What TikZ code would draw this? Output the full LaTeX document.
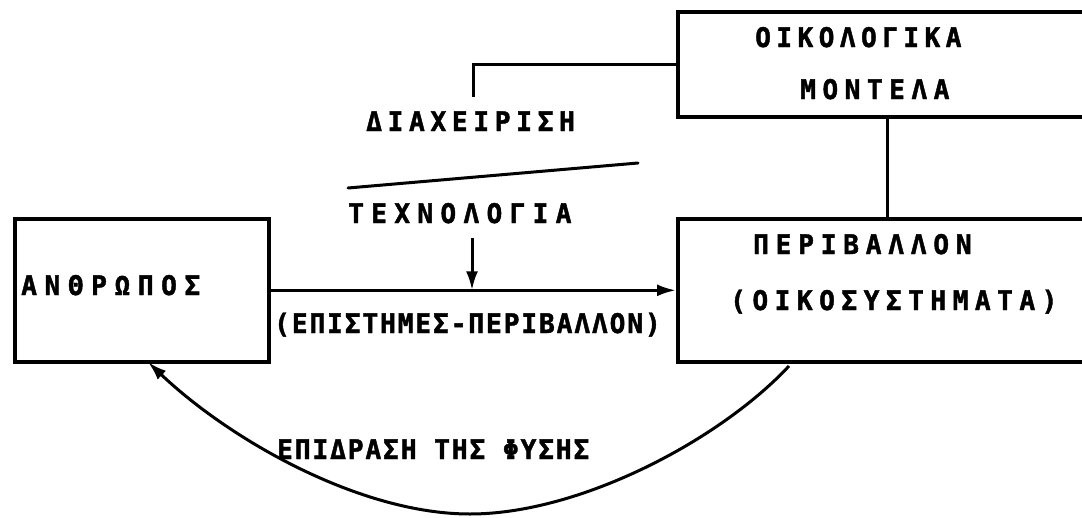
\documentclass[tikz,border=0pt]{standalone}
\usepackage{fontspec}
\usetikzlibrary{arrows.meta}
\newfontfamily\lblfont{DejaVu Sans Mono}[FakeStretch=0.97, BoldFeatures={FakeBold=1.6}]
\newcommand{\lsp}[1]{\addfontfeatures{LetterSpace=#1}}
\tikzset{
  frame/.style={draw, line width=3.6pt, inner sep=0pt, anchor=north west},
  lbl/.style={font=\lblfont\bfseries\fontsize{27}{29}\selectfont, inner sep=0pt, anchor=base west},
  link/.style={line width=3pt},
  tip/.style={-{Latex[length=19pt,width=12pt]}, line width=3pt}
}
\begin{document}
\begin{tikzpicture}[x=1pt, y=-1pt]
\useasboundingbox (0,0) rectangle (1082,517);
\clip (0,0) rectangle (1082,517);
% boxes
\node[frame, minimum width=254pt, minimum height=143pt] (anth) at (13,217) {};
\node[frame, minimum width=440pt, minimum height=143pt] (per) at (676,217) {};
\node[frame, minimum width=440pt, minimum height=105pt] (oiko) at (676,10) {};
% box texts (base points)
\node[lbl] (anthT) at (21,295) {\lsp{28}ΑΝΘΡΩΠΟΣ};
\node[lbl] (perT1) at (753,254) {\lsp{25}ΠΕΡΙΒΑΛΛΟΝ};
\node[lbl] (perT2) at (730,310) {\lsp{24}(ΟΙΚΟΣΥΣΤΗΜΑΤΑ)};
\node[lbl] (oikT1) at (755,47) {\lsp{20}ΟΙΚΟΛΟΓΙΚΑ};
\node[lbl] (oikT2) at (800,99) {\lsp{24}ΜΟΝΤΕΛΑ};
% free labels
\node[lbl] (diax) at (366,131) {\lsp{21}ΔΙΑΧΕΙΡΙΣΗ};
\node[lbl] (tech) at (348,223) {\lsp{27}ΤΕΧΝΟΛΟΓΙΑ};
\node[lbl] (epist) at (274,333) {\lsp{7}(ΕΠΙΣΤΗΜΕΣ-ΠΕΡΙΒΑΛΛΟΝ)};
\node[lbl] (epid) at (277,459) {\lsp{7}ΕΠΙΔΡΑΣΗ ΤΗΣ ΦΥΣΗΣ};
% connector ends
\coordinate (diaxEnd) at (473,97);
\coordinate (slashA) at (348,188);
\coordinate (slashB) at (638,163);
\coordinate (techTop) at (472,238);
\coordinate (curveStart) at (789,366);
\coordinate (curveLow) at (470,514);
\coordinate (curveEnd) at (148,362);
% connectors
\draw[link] (oiko.west) -| (diaxEnd);
\draw[link, line cap=round] (slashA) -- (slashB);
\draw[link] (oiko.south -| 887,0) -- (per.north -| 887,0);
\draw[tip] (anth.east) -- (per.west);
\draw[tip] (techTop) -- (techTop |- anth.east);
\draw[tip] (curveStart) .. controls (720,440) and (580,514) .. (curveLow)
                        .. controls (360,514) and (230,440) .. (curveEnd);
\end{tikzpicture}
\end{document}
